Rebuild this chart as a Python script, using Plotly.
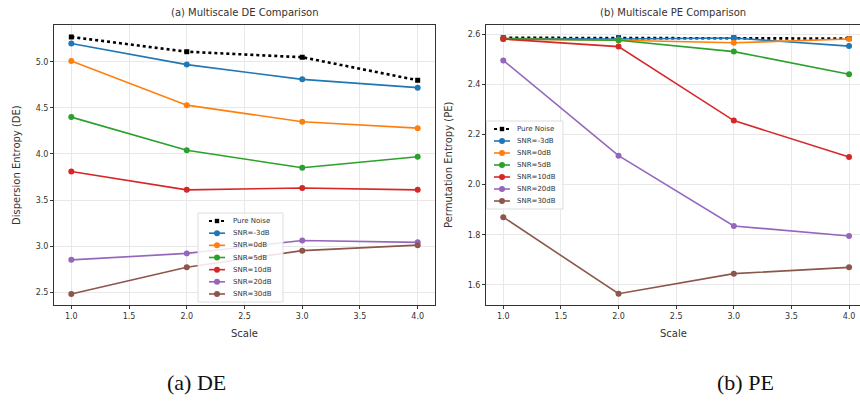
import plotly.graph_objects as go

# ---- data -------------------------------------------------------------
scales = [1, 2, 3, 4]
series_names = ["Pure Noise", "SNR=-3dB", "SNR=0dB", "SNR=5dB",
                "SNR=10dB", "SNR=20dB", "SNR=30dB"]
series_colors = ["#000000", "#1f77b4", "#ff7f0e", "#2ca02c",
                 "#d62728", "#9467bd", "#8c564b"]

# Multiscale dispersion entropy
de_pure_noise = [5.27, 5.11, 5.05, 4.80]
de_snr_m3 = [5.20, 4.97, 4.81, 4.72]
de_snr_0 = [5.01, 4.53, 4.35, 4.28]
de_snr_5 = [4.40, 4.04, 3.85, 3.97]
de_snr_10 = [3.81, 3.61, 3.63, 3.61]
de_snr_20 = [2.85, 2.92, 3.06, 3.04]
de_snr_30 = [2.48, 2.77, 2.95, 3.01]

# Multiscale permutation entropy
pe_pure_noise = [2.585, 2.585, 2.585, 2.582]
pe_snr_m3 = [2.582, 2.580, 2.584, 2.552]
pe_snr_0 = [2.580, 2.575, 2.565, 2.580]
pe_snr_5 = [2.581, 2.575, 2.530, 2.440]
pe_snr_10 = [2.580, 2.550, 2.255, 2.110]
pe_snr_20 = [2.495, 2.115, 1.835, 1.795]
pe_snr_30 = [1.870, 1.565, 1.645, 1.670]

de_series = [de_pure_noise, de_snr_m3, de_snr_0, de_snr_5,
             de_snr_10, de_snr_20, de_snr_30]
pe_series = [pe_pure_noise, pe_snr_m3, pe_snr_0, pe_snr_5,
             pe_snr_10, pe_snr_20, pe_snr_30]

# ---- figure -----------------------------------------------------------
W, H = 860, 401
FONT = "DejaVu Sans"


def px(x):
    return x / W


def py(y):
    return 1 - y / H


fig = go.Figure()


def add_panel(series, xa, ya):
    for name, color, vals in zip(series_names, series_colors, series):
        pure = name == "Pure Noise"
        fig.add_trace(go.Scatter(
            x=scales, y=vals, name=name, xaxis=xa, yaxis=ya,
            mode="lines+markers", showlegend=False,
            line=dict(color=color, width=2.6 if pure else 1.6,
                      dash="dot" if pure else "solid"),
            marker=dict(color=color, size=5 if pure else 6,
                        symbol="square" if pure else "circle"),
        ))


add_panel(de_series, "x", "y")
add_panel(pe_series, "x2", "y2")

axis_common = dict(
    showline=True, linecolor="#333333", linewidth=1, mirror=True,
    ticks="outside", ticklen=3, tickcolor="#333333",
    showgrid=True, gridcolor="#e8e8e8", gridwidth=1, zeroline=False,
    tickfont=dict(family=FONT, size=8, color="#333333"),
    tickformat=".1f",
)

y_dom = [py(305), py(25)]
fig.update_layout(
    width=W, height=H,
    margin=dict(l=0, r=0, t=0, b=0),
    paper_bgcolor="white", plot_bgcolor="white",
    xaxis=dict(domain=[px(54), px(435)], range=[0.85, 4.15],
               dtick=0.5, tick0=1.0, anchor="y", **axis_common),
    yaxis=dict(domain=y_dom, range=[2.36, 5.40], dtick=0.5, tick0=2.5,
               anchor="x", **axis_common),
    xaxis2=dict(domain=[px(486), 1.0], range=[0.85, 4.095],
                dtick=0.5, tick0=1.0, anchor="y2", **axis_common),
    yaxis2=dict(domain=y_dom, range=[1.52, 2.636], dtick=0.2, tick0=1.6,
                anchor="x2", **axis_common),
    showlegend=False,
)

annotations = []
shapes = []


def text(x, y, s, size, family=FONT, color="#333333", xanchor="center",
         textangle=0):
    annotations.append(dict(
        x=px(x), y=py(y), xref="paper", yref="paper", text=s,
        showarrow=False, xanchor=xanchor, yanchor="middle",
        textangle=textangle,
        font=dict(family=family, size=size, color=color)))


# panel titles, axis titles and captions
text(244.5, 12, "(a) Multiscale DE Comparison", 10)
text(673, 12, "(b) Multiscale PE Comparison", 10)
text(244.5, 333, "Scale", 10)
text(673, 333, "Scale", 10)
text(16, 165, "Dispersion Entropy (DE)", 10, textangle=-90)
text(448, 165, "Permutation Entropy (PE)", 10, textangle=-90)
text(196, 382, "(a) DE", 22, family="Liberation Serif", color="#111111")
text(745, 382, "(b) PE", 22, family="Liberation Serif", color="#111111")


def legend(x0, y0, x1, y1, hx, tx, rows):
    shapes.append(dict(type="rect", xref="paper", yref="paper",
                       x0=px(x0), x1=px(x1), y0=py(y1), y1=py(y0),
                       fillcolor="rgba(255,255,255,0.85)",
                       line=dict(color="#dddddd", width=1)))
    for i, (name, color) in enumerate(zip(series_names, series_colors)):
        y = rows[0] + i * (rows[1] - rows[0]) / (len(series_names) - 1)
        pure = name == "Pure Noise"
        shapes.append(dict(type="line", xref="paper", yref="paper",
                           x0=px(hx - 8), x1=px(hx + 8), y0=py(y), y1=py(y),
                           line=dict(color=color, width=2.2 if pure else 1.6,
                                     dash="dot" if pure else "solid")))
        r = 2.2 if pure else 3
        shapes.append(dict(type="rect" if pure else "circle",
                           xref="paper", yref="paper",
                           x0=px(hx - r), x1=px(hx + r),
                           y0=py(y + r), y1=py(y - r),
                           fillcolor=color, line=dict(color=color, width=0)))
        text(tx, y, name, 7, xanchor="left")


legend(198, 213, 283, 302, 217, 231, (221, 294))
legend(486.5, 121, 563, 209, 502, 515, (129, 201))

fig.update_layout(annotations=annotations, shapes=shapes)

fig.write_html("out.html")
